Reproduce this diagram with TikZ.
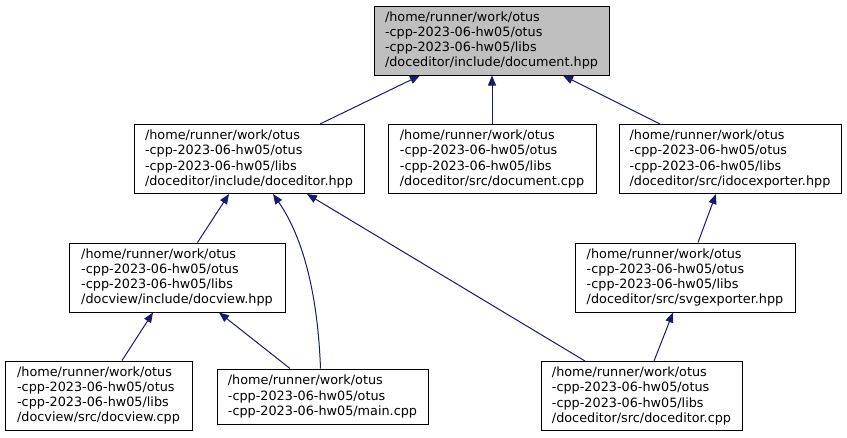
\documentclass[tikz,border=0pt]{standalone}
\usepackage{fontspec}
\setmainfont{DejaVu Sans}
\usetikzlibrary{arrows.meta}
\definecolor{edgeblue}{HTML}{191970}
\definecolor{topgray}{HTML}{BFBFBF}
\begin{document}
\begin{tikzpicture}[x=1pt,y=-1pt,
  filebox/.style={draw=black, line width=1pt, align=left, inner xsep=0pt, inner ysep=0pt,
    minimum height=69pt, font=\fontsize{12.8}{15.3}\selectfont, anchor=center},
  edge/.style={draw=edgeblue, line width=1pt, -{Triangle[length=10pt,width=8pt]}}]
\useasboundingbox (0,0) rectangle (847,437);
\fill[white] (0,0) rectangle (847,437);
\node[filebox, fill=topgray, minimum width=235pt] (A) at (491.5,40.5)
  {/home/runner/work/otus\\-cpp-2023-06-hw05/otus\\-cpp-2023-06-hw05/libs\\/doceditor/include/document.hpp};
\node[filebox, minimum width=230pt] (B) at (249,159)
  {/home/runner/work/otus\\-cpp-2023-06-hw05/otus\\-cpp-2023-06-hw05/libs\\/doceditor/include/doceditor.hpp};
\node[filebox, minimum width=208pt] (C) at (492,159)
  {/home/runner/work/otus\\-cpp-2023-06-hw05/otus\\-cpp-2023-06-hw05/libs\\/doceditor/src/document.cpp};
\node[filebox, minimum width=222pt] (D) at (730,159)
  {/home/runner/work/otus\\-cpp-2023-06-hw05/otus\\-cpp-2023-06-hw05/libs\\/doceditor/src/idocexporter.hpp};
\node[filebox, minimum width=216pt] (E) at (177,277.5)
  {/home/runner/work/otus\\-cpp-2023-06-hw05/otus\\-cpp-2023-06-hw05/libs\\/docview/include/docview.hpp};
\node[filebox, minimum width=220pt] (F) at (685,277.5)
  {/home/runner/work/otus\\-cpp-2023-06-hw05/otus\\-cpp-2023-06-hw05/libs\\/doceditor/src/svgexporter.hpp};
\node[filebox, minimum width=187pt] (G) at (98.5,395.5)
  {/home/runner/work/otus\\-cpp-2023-06-hw05/otus\\-cpp-2023-06-hw05/libs\\/docview/src/docview.cpp};
\node[filebox, minimum width=211pt, minimum height=55pt] (H) at (322.5,396.5)
  {/home/runner/work/otus\\-cpp-2023-06-hw05/otus\\-cpp-2023-06-hw05/main.cpp};
\node[filebox, minimum width=201pt] (I) at (641.5,396)
  {/home/runner/work/otus\\-cpp-2023-06-hw05/otus\\-cpp-2023-06-hw05/libs\\/doceditor/src/doceditor.cpp};
% edges (arrow tips at the included file)
\draw[edge] ([xshift=71pt]B.north) -- ([xshift=-71.5pt]A.south);
\draw[edge] (C.north) -- (C.north |- A.south);
\draw[edge] ([xshift=-70pt]D.north) -- ([xshift=71.5pt]A.south);
\draw[edge] ([xshift=20.5pt]E.north) -- ([xshift=-20pt]B.south);
\draw[edge] ([xshift=-2pt]H.north) .. controls (318,300) and (305,240) .. ([xshift=24pt]B.south);
\draw[edge] ([xshift=-56.5pt]I.north) -- ([xshift=58pt]B.south);
\draw[edge] ([xshift=13pt]F.north) -- ([xshift=-14pt]D.south);
\draw[edge] ([xshift=23.5pt]G.north) -- ([xshift=-24pt]E.south);
\draw[edge] ([xshift=-32.5pt]H.north) -- ([xshift=42pt]E.south);
\draw[edge] ([xshift=12.5pt]I.north) -- ([xshift=-12pt]F.south);
\end{tikzpicture}
\end{document}
